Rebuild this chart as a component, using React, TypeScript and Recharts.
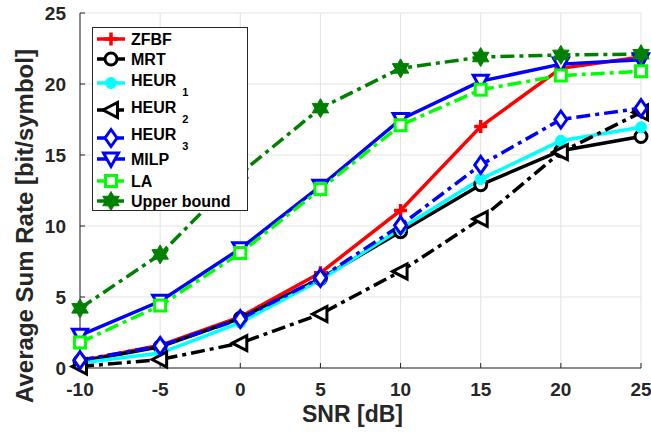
import React from 'react';
import { LineChart, Line, XAxis, YAxis, CartesianGrid, Legend } from 'recharts';

const snr = [-10, -5, 0, 5, 10, 15, 20, 25];
const zfbf = [0.5, 1.6, 3.6, 6.7, 11.1, 17.0, 21.1, 21.9];
const mrt = [0.45, 1.5, 3.5, 6.3, 9.6, 12.9, 15.3, 16.3];
const heur1 = [0.35, 1.05, 3.2, 6.2, 9.8, 13.3, 16.0, 16.95];
const heur2 = [0.1, 0.6, 1.75, 3.8, 6.8, 10.5, 15.2, 18.0];
const heur3 = [0.55, 1.55, 3.45, 6.35, 10.05, 14.3, 17.5, 18.3];
const milp = [2.3, 4.7, 8.4, 12.8, 17.5, 20.2, 21.4, 21.7];
const la = [1.8, 4.4, 8.1, 12.6, 17.1, 19.6, 20.6, 20.9];
const upper = [4.2, 8.0, 13.7, 18.3, 21.1, 21.9, 22.05, 22.1];

const xTicks = [-10, -5, 0, 5, 10, 15, 20, 25];
const yTicks = [0, 5, 10, 15, 20, 25];

const xLabel = 'SNR [dB]';
const yLabel = 'Average Sum Rate [bit/symbol]';

type Kind = 'plus' | 'circle' | 'dot' | 'triLeft' | 'diamond' | 'triDown' | 'square' | 'hexagram';

interface SeriesDef {
  key: string;
  name: string;
  sub?: string;
  color: string;
  dash?: string;
  marker: Kind;
}

const DASHDOT = '14 5 4 5';

const series: SeriesDef[] = [
  { key: 'zfbf', name: 'ZFBF', color: '#ff0000', marker: 'plus' },
  { key: 'mrt', name: 'MRT', color: '#000000', marker: 'circle' },
  { key: 'heur1', name: 'HEUR', sub: '1', color: '#00ffff', marker: 'dot' },
  { key: 'heur2', name: 'HEUR', sub: '2', color: '#000000', dash: DASHDOT, marker: 'triLeft' },
  { key: 'heur3', name: 'HEUR', sub: '3', color: '#0000ff', dash: DASHDOT, marker: 'diamond' },
  { key: 'milp', name: 'MILP', color: '#0000ff', marker: 'triDown' },
  { key: 'la', name: 'LA', color: '#00ff00', dash: DASHDOT, marker: 'square' },
  { key: 'upper', name: 'Upper bound', color: '#008000', dash: DASHDOT, marker: 'hexagram' },
];

const values: Record<string, number[]> = { zfbf, mrt, heur1, heur2, heur3, milp, la, upper };

const data = snr.map((s, i) => {
  const row: Record<string, number> = { snr: s };
  series.forEach((d) => {
    row[d.key] = values[d.key][i];
  });
  return row;
});

const FONT = '"Liberation Sans", Arial, Helvetica, sans-serif';
const AXIS = '#262626';

function Marker({ kind, cx, cy, color }: { kind: Kind; cx: number; cy: number; color: string }) {
  const sw = 3;
  switch (kind) {
    case 'plus':
      return <path d={`M${cx - 6.5},${cy}H${cx + 6.5}M${cx},${cy - 6.5}V${cy + 6.5}`} stroke={color} strokeWidth={3.5} fill="none" />;
    case 'circle':
      return <circle cx={cx} cy={cy} r={6} stroke={color} strokeWidth={sw} fill="#fff" />;
    case 'dot':
      return <circle cx={cx} cy={cy} r={5.5} stroke={color} strokeWidth={1} fill={color} />;
    case 'triLeft':
      return (
        <polygon
          points={`${cx - 8},${cy} ${cx + 6.5},${cy - 7.5} ${cx + 6.5},${cy + 7.5}`}
          stroke={color}
          strokeWidth={sw}
          fill="#fff"
        />
      );
    case 'diamond':
      return (
        <polygon
          points={`${cx},${cy - 8.5} ${cx + 6},${cy} ${cx},${cy + 8.5} ${cx - 6},${cy}`}
          stroke={color}
          strokeWidth={sw}
          fill="#fff"
        />
      );
    case 'triDown':
      return (
        <polygon
          points={`${cx - 7.5},${cy - 6} ${cx + 7.5},${cy - 6} ${cx},${cy + 7.5}`}
          stroke={color}
          strokeWidth={sw}
          fill="#fff"
        />
      );
    case 'square':
      return <rect x={cx - 5.5} y={cy - 5.5} width={11} height={11} stroke={color} strokeWidth={sw} fill="#fff" />;
    case 'hexagram': {
      const pts: string[] = [];
      for (let k = 0; k < 12; k++) {
        const r = k % 2 === 0 ? 9.5 : 5.5;
        const a = (Math.PI / 6) * k - Math.PI / 2;
        pts.push(`${cx + r * Math.cos(a)},${cy + r * Math.sin(a)}`);
      }
      return <polygon points={pts.join(' ')} fill={color} stroke={color} strokeWidth={1} />;
    }
    default:
      return null;
  }
}

const legendRowY = [11, 31, 55, 82, 110, 131, 153, 173];
const legendTextDy = [0, 0, -3, -3, -4, 0, 0, 0];

function LegendBox() {
  return (
    <div
      style={{
        width: 156,
        height: 184,
        border: `1px solid ${AXIS}`,
        background: '#fff',
        boxSizing: 'border-box',
      }}
    >
      <svg width={154} height={182} style={{ display: 'block' }}>
        {series.map((s, i) => {
          const y = legendRowY[i];
          const ty = y + legendTextDy[i];
          return (
            <g key={s.key}>
              <line x1={4} x2={32} y1={y} y2={y} stroke={s.color} strokeWidth={3.5} strokeDasharray={s.dash ? '9 3 3 3' : undefined} />
              <Marker kind={s.marker} cx={18} cy={y} color={s.color} />
              <text x={38} y={ty} dy="0.36em" fontFamily={FONT} fontWeight="bold" fontSize={16} fill="#000">
                {s.name}
                {s.sub ? (
                  <tspan dx={6} dy={10} fontSize={11}>
                    {s.sub}
                  </tspan>
                ) : null}
              </text>
            </g>
          );
        })}
      </svg>
    </div>
  );
}

const tickStyle = { fontFamily: FONT, fontWeight: 'bold' as const, fontSize: 19, fill: AXIS };

export default function App() {
  return (
    <div style={{ position: 'absolute', left: 0, top: 0, width: 651, height: 434, background: '#fff' }}>
      <LineChart width={651} height={434} data={data} margin={{ top: 13, right: 10, bottom: 0, left: 0 }}>
        <CartesianGrid stroke="#e3e3e3" strokeWidth={1} />
        <XAxis
          dataKey="snr"
          type="number"
          domain={[-10, 25]}
          ticks={xTicks}
          interval={0}
          height={66}
          tickSize={-5}
          tickMargin={20}
          tick={tickStyle}
          axisLine={{ stroke: AXIS }}
          tickLine={{ stroke: AXIS }}
          label={{
            value: xLabel,
            position: 'insideBottom',
            offset: 12,
            dx: -8,
            style: { fontFamily: FONT, fontWeight: 'bold', fontSize: 23, fill: AXIS },
          }}
        />
        <XAxis
          xAxisId="top"
          orientation="top"
          dataKey="snr"
          type="number"
          domain={[-10, 25]}
          ticks={xTicks}
          height={0}
          tick={false}
          tickSize={-5}
          axisLine={{ stroke: AXIS }}
          tickLine={{ stroke: AXIS }}
        />
        <YAxis
          type="number"
          domain={[0, 25]}
          ticks={yTicks}
          interval={0}
          width={80}
          tickSize={-5}
          tickMargin={19}
          tick={tickStyle}
          axisLine={{ stroke: AXIS }}
          tickLine={{ stroke: AXIS }}
          label={{
            content: () => (
              <text
                x={33}
                y={226}
                transform="rotate(-90 33 226)"
                textAnchor="middle"
                fontFamily={FONT}
                fontWeight="bold"
                fontSize={24}
                fill={AXIS}
              >
                {yLabel}
              </text>
            ),
          }}
        />
        <YAxis
          yAxisId="right"
          orientation="right"
          type="number"
          domain={[0, 25]}
          ticks={yTicks}
          width={0}
          tick={false}
          tickSize={-5}
          axisLine={{ stroke: AXIS }}
          tickLine={{ stroke: AXIS }}
        />
        {series.map((s) => (
          <Line
            key={s.key}
            dataKey={s.key}
            name={s.name}
            type="linear"
            stroke={s.color}
            strokeWidth={3.5}
            strokeDasharray={s.dash}
            isAnimationActive={false}
            dot={(p: any) => (
              <Marker key={`${s.key}-${p.index}`} kind={s.marker} cx={p.cx} cy={p.cy} color={s.color} />
            )}
            activeDot={false}
          />
        ))}
        <Legend
          layout="horizontal"
          verticalAlign="middle"
          align="center"
          wrapperStyle={{ left: 92, top: 27, width: 156, height: 184 }}
          content={() => <LegendBox />}
        />
      </LineChart>
    </div>
  );
}
